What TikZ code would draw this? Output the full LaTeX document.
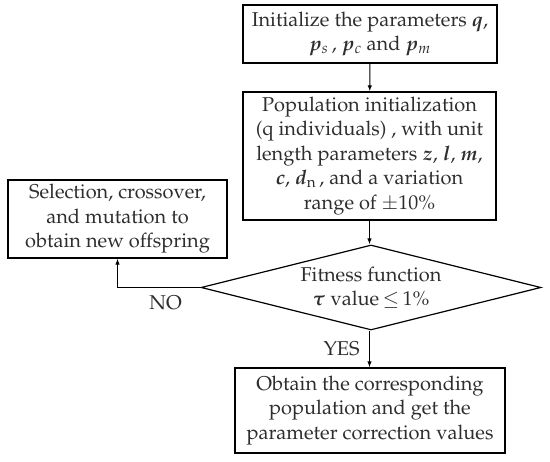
\documentclass[tikz,border=0pt]{standalone}
\usepackage[T1]{fontenc}
\usepackage{mathpazo}
\usepackage{amsmath}
\usepackage{bm}
\usetikzlibrary{arrows.meta, positioning, shapes.geometric}

\begin{document}
\begin{tikzpicture}[x=1pt, y=-1pt, >={Latex[length=6pt, width=4.5pt]},
    font=\fontsize{20}{24.5}\selectfont]
  \tikzset{
    procbox/.style={draw, line width=1.4pt, inner sep=0pt, align=center, text=black!82},
    decide/.style={draw, diamond, line width=1.2pt, inner sep=0pt, aspect=4, align=center, text=black!82},
    flow/.style={->, line width=1pt}
  }
  \useasboundingbox (0,0) rectangle (550,462);

  % Schritte des Algorithmus
  \node[procbox, minimum width=254pt, minimum height=58pt] (init) at (370,34)
    {Initialize the parameters $\bm{q}$,\\ $\bm{p}_{s}$\,, $\bm{p}_{c}$ and $\bm{p}_{m}$};
  \node[procbox, minimum width=253pt, minimum height=128pt] (popinit) at (369.5,156)
    {Population initialization\\ (q individuals) , with unit\\ length parameters $\bm{z}$, $\bm{l}$, $\bm{m}$,\\
     $\bm{c}$, $\bm{d}_{\mathrm{n}}$\,, and a variation\\ range of $\pm$10\%};
  \node[decide, minimum width=340pt, minimum height=85pt] (fit) at (371,287.5)
    {Fitness function\\ $\bm{\tau}$ value\,$\leq$\,1\%};
  \node[procbox, minimum width=219pt, minimum height=78pt] (select) at (117.5,219)
    {Selection, crossover,\\ and mutation to\\ obtain new offspring};
  \node[procbox, minimum width=270pt, minimum height=85pt] (result) at (370,410.5)
    {Obtain the corresponding\\ population and get the\\ parameter correction values};

  % Verbindungen
  \draw[flow] (init) -- (popinit);
  \draw[flow] (popinit.south) -- (popinit.south |- fit.north);
  \draw[flow] (fit.west) -| node[below, pos=0.21, yshift=-4pt, text=black!82] {NO} (select.south);
  \draw[flow] (popinit.south |- fit.south) -- node[left, xshift=-6pt, text=black!82] {YES} (result.north -| popinit.south);

\end{tikzpicture}
\end{document}
